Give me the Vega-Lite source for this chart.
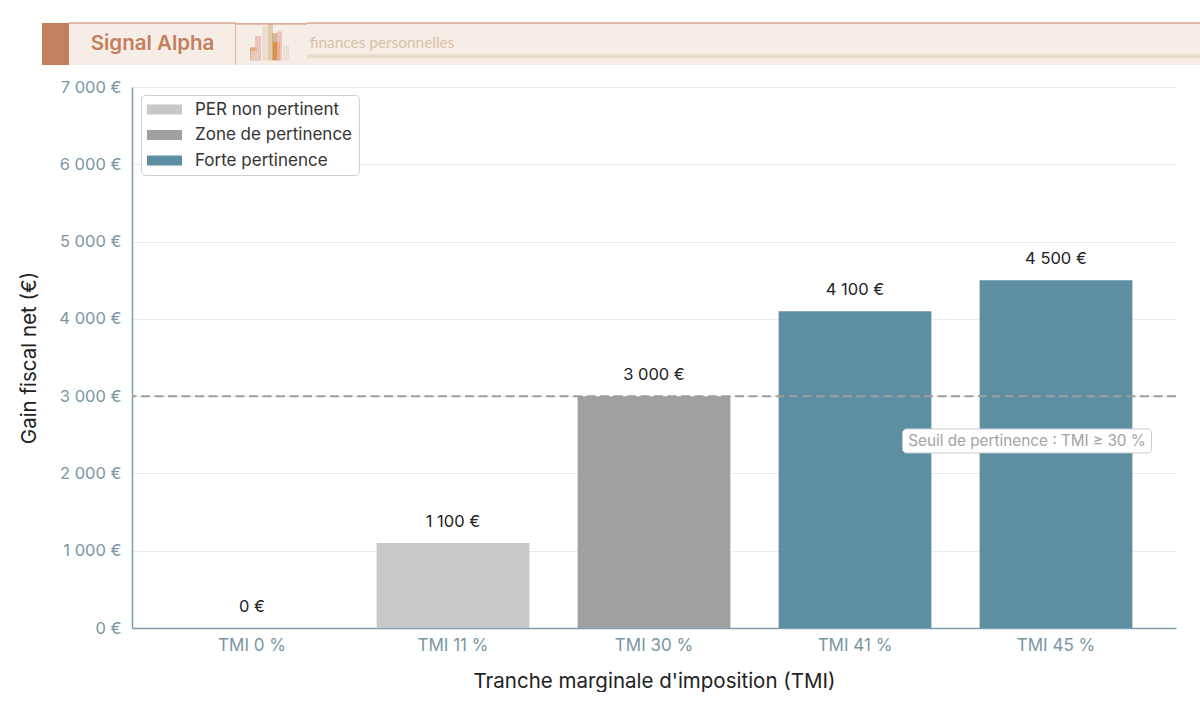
{
  "$schema": "https://vega.github.io/schema/vega-lite/v6.json",
  "padding": {"left": 19, "top": 22, "right": 0, "bottom": 0},
  "background": "white",
  "spacing": 13,
  "config": {
    "font": "Inter",
    "view": {"stroke": null}
  },
  "datasets": {
    "gains": [
      {"tmi": "TMI 0 %", "gain": 0, "zone": "PER non pertinent", "label": "0 €"},
      {"tmi": "TMI 11 %", "gain": 1100, "zone": "PER non pertinent", "label": "1 100 €"},
      {"tmi": "TMI 30 %", "gain": 3000, "zone": "Zone de pertinence", "label": "3 000 €"},
      {"tmi": "TMI 41 %", "gain": 4100, "zone": "Forte pertinence", "label": "4 100 €"},
      {"tmi": "TMI 45 %", "gain": 4500, "zone": "Forte pertinence", "label": "4 500 €"}
    ],
    "skyline": [
      {"from": 14, "to": 21, "h": 14, "c": "#e0925c"},
      {"from": 19, "to": 25, "h": 26, "c": "#e8b4ae"},
      {"from": 15, "to": 22, "h": 10, "c": "#dfd5c2"},
      {"from": 26, "to": 33, "h": 37, "c": "#e6d9c6"},
      {"from": 32, "to": 37, "h": 39, "c": "#d8bf9c"},
      {"from": 36, "to": 41, "h": 29, "c": "#c9a477"},
      {"from": 37, "to": 44, "h": 20, "c": "#d9822b"},
      {"from": 41, "to": 46, "h": 31, "c": "#e8b4ae"},
      {"from": 47, "to": 53, "h": 16, "c": "#e6dccd"}
    ]
  },
  "vconcat": [
    {
      "bounds": "flush",
      "spacing": 0,
      "hconcat": [
        {
          "width": 27,
          "height": 42,
          "view": {"fill": "#c47f5e"},
          "data": {"values": [{"blank": ""}]},
          "mark": {"type": "text", "opacity": 0},
          "encoding": {"text": {"field": "blank"}}
        },
        {
          "width": 167,
          "height": 42,
          "view": {"fill": "#f7ede7"},
          "layer": [
            {
              "data": {"values": [{"brand": "Signal Alpha"}]},
              "mark": {"type": "text", "font": "Inter", "fontSize": 20.5, "fontWeight": 600, "color": "#c47f5e"},
              "encoding": {"text": {"field": "brand"}}
            },
            {
              "data": {"values": [{"edge": 1}]},
              "mark": {"type": "rule", "color": "#c47f5e", "strokeWidth": 1},
              "encoding": {"x": {"field": "edge", "type": "quantitative", "scale": {"domain": [0, 1]}, "axis": null}}
            },
            {
              "data": {"values": [{"edge": 1}]},
              "mark": {"type": "rule", "color": "#c47f5e", "strokeWidth": 1},
              "encoding": {"y": {"field": "edge", "type": "quantitative", "scale": {"domain": [0, 1]}, "axis": null}}
            }
          ]
        },
        {
          "width": 71,
          "height": 42,
          "view": {"fill": "#f7ede7"},
          "layer": [
            {
              "data": {"name": "skyline"},
              "mark": {"type": "rect", "opacity": 0.75},
              "encoding": {
                "x": {"field": "from", "type": "quantitative", "axis": null, "scale": {"domain": [0, 71]}},
                "x2": {"field": "to"},
                "y": {"field": "h", "type": "quantitative", "axis": null, "scale": {"domain": [-3, 39]}},
                "y2": {"datum": 0},
                "color": {"field": "c", "type": "nominal", "scale": null}
              }
            },
            {
              "data": {"values": [{"edge": 39}]},
              "mark": {"type": "rule", "color": "#c47f5e", "strokeWidth": 1},
              "encoding": {"y": {"field": "edge", "type": "quantitative"}}
            }
          ]
        },
        {
          "width": 893,
          "height": 42,
          "view": {"fill": "#f7ede7"},
          "layer": [
            {
              "data": {"values": [{"tagline": "finances personnelles", "from": 0.003, "level": 0.53}]},
              "mark": {"type": "text", "font": "Lato", "fontSize": 15.4, "align": "left", "color": "#d6c2aa"},
              "encoding": {
                "text": {"field": "tagline"},
                "x": {"field": "from", "type": "quantitative", "scale": {"domain": [0, 1]}, "axis": null},
                "y": {"field": "level", "type": "quantitative", "scale": {"domain": [0, 1]}, "axis": null}
              }
            },
            {
              "data": {"values": [{"level": 0.21}]},
              "mark": {"type": "rule", "color": "#e8dccd", "strokeWidth": 4},
              "encoding": {"y": {"field": "level", "type": "quantitative"}}
            },
            {
              "data": {"values": [{"level": 1}]},
              "mark": {"type": "rule", "color": "#c47f5e", "strokeWidth": 1},
              "encoding": {"y": {"field": "level", "type": "quantitative"}}
            }
          ]
        }
      ]
    },
    {
      "bounds": "flush",
      "spacing": 0,
      "hconcat": [
        {
          "width": 90,
          "height": 541,
          "data": {"values": [{"blank": ""}]},
          "mark": {"type": "text", "opacity": 0},
          "encoding": {"text": {"field": "blank"}}
        },
        {
          "width": 1044,
          "height": 541,
          "encoding": {
            "x": {
              "field": "tmi",
              "type": "nominal",
              "sort": null,
              "title": "Tranche marginale d'imposition (TMI)",
              "scale": {"paddingInner": 0.24, "paddingOuter": 0.217},
              "axis": {
                "labelAngle": 0,
                "labelColor": "#7a96a6",
                "labelFontSize": 17,
                "labelPadding": 9,
                "titleFontSize": 20.5,
                "titleFontWeight": "normal",
                "titleColor": "#222222",
                "titlePadding": 18,
                "ticks": false,
                "domainColor": "#7f9dac",
                "domainWidth": 1.5
              }
            }
          },
          "layer": [
            {
              "data": {"name": "gains"},
              "mark": {"type": "bar", "opacity": 1},
              "encoding": {
                "y": {
                  "field": "gain",
                  "type": "quantitative",
                  "title": "Gain fiscal net (€)",
                  "scale": {"domain": [0, 7000]},
                  "axis": {
                    "values": [0, 1000, 2000, 3000, 4000, 5000, 6000, 7000],
                    "labelExpr": "replace(format(datum.value, ','), ',', ' ') + ' €'",
                    "labelColor": "#7a96a6",
                    "labelFontSize": 16.5,
                    "labelPadding": 11,
                    "titleFontSize": 20.5,
                    "titleFontWeight": "normal",
                    "titleColor": "#222222",
                    "titlePadding": 19,
                    "ticks": false,
                    "domainColor": "#7f9dac",
                    "domainWidth": 1.5,
                    "grid": true,
                    "gridColor": "#e9ecef",
                    "gridWidth": 1
                  }
                },
                "color": {
                  "field": "zone",
                  "type": "nominal",
                  "title": null,
                  "scale": {
                    "domain": ["PER non pertinent", "Zone de pertinence", "Forte pertinence"],
                    "range": ["#c8c8c8", "#a0a0a0", "#5d8ea2"]
                  },
                  "legend": {
                    "orient": "none",
                    "legendX": 99,
                    "legendY": 72,
                    "fillColor": "white",
                    "strokeColor": "#ccd0d4",
                    "cornerRadius": 4,
                    "padding": 6,
                    "labelFontSize": 17,
                    "labelColor": "#333333",
                    "labelLimit": 250,
                    "labelOffset": 31,
                    "rowPadding": 7.5,
                    "symbolType": "M-1.7,-1H5.3V1H-1.7Z",
                    "symbolSize": 100,
                    "symbolStrokeWidth": 0,
                    "symbolOpacity": 1,
                    "encode": {"symbols": {"update": {"opacity": {"value": 1}, "fillOpacity": {"value": 1}}}}
                  }
                }
              }
            },
            {
              "data": {"name": "gains"},
              "mark": {"type": "text", "baseline": "bottom", "dy": -13, "fontSize": 16.5, "color": "#222222"},
              "encoding": {
                "y": {"field": "gain", "type": "quantitative"},
                "text": {"field": "label"}
              }
            },
            {
              "data": {"values": [{"threshold": 3000}]},
              "mark": {"type": "rule", "color": "#9e9e9e", "strokeWidth": 2, "strokeDash": [9, 4.5]},
              "encoding": {
                "x": null,
                "y": {"field": "threshold", "type": "quantitative"}
              }
            },
            {
              "data": {"values": [{"tmi": "TMI 45 %", "level": 2420}]},
              "mark": {"type": "rect", "width": 249, "height": 24, "xOffset": -29, "fill": "white", "stroke": "#c4ccd2", "cornerRadius": 4},
              "encoding": {
                "y": {"field": "level", "type": "quantitative"}
              }
            },
            {
              "data": {"values": [{"tmi": "TMI 45 %", "level": 2420, "note": "Seuil de pertinence : TMI ≥ 30 %"}]},
              "mark": {"type": "text", "dx": -29, "fontSize": 15.3, "color": "#a3a3a3"},
              "encoding": {
                "y": {"field": "level", "type": "quantitative"},
                "text": {"field": "note"}
              }
            }
          ]
        }
      ]
    }
  ]
}
